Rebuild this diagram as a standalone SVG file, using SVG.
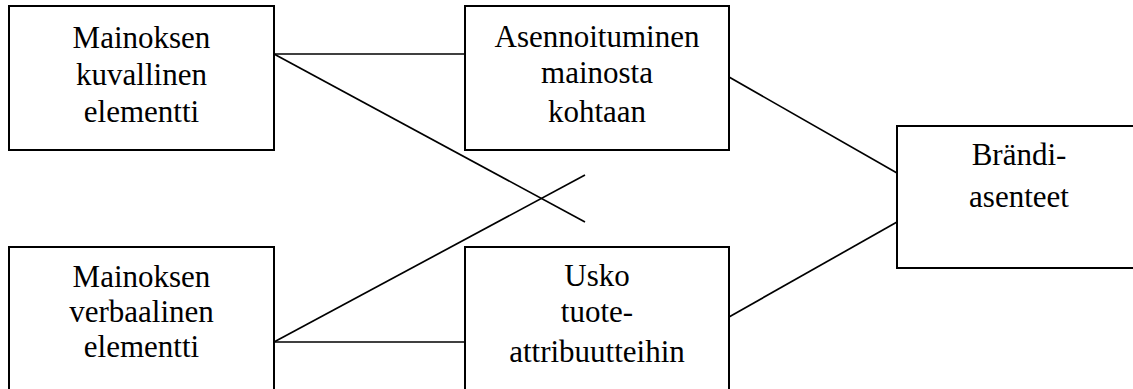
<svg xmlns="http://www.w3.org/2000/svg" width="1133" height="389" viewBox="0 0 1133 389">
<style>
.box{fill:#fff;stroke:#000;stroke-width:2}
.t{font-family:'Liberation Serif','DejaVu Serif',serif;font-size:31px;fill:#000;text-anchor:middle}
.c line{stroke:#000;stroke-width:1.7}
</style>
<rect width="1133" height="389" fill="#fff"/>
<g id="connectors" class="c">
<line x1="274" y1="54" x2="465" y2="54"/>
<line x1="274" y1="54" x2="585" y2="222"/>
<line x1="274" y1="342" x2="585" y2="175"/>
<line x1="274" y1="342" x2="465" y2="342"/>
<line x1="729" y1="77" x2="897" y2="173"/>
<line x1="729" y1="317" x2="897" y2="222"/>
</g>
<g id="n1" font-family="Liberation Serif">
<rect class="box" x="9" y="6" width="265" height="144"/>
<text class="t" x="141.5" y="48">Mainoksen</text>
<text class="t" x="141.5" y="85">kuvallinen</text>
<text class="t" x="141.5" y="122">elementti</text>
</g>
<g id="n2">
<rect class="box" x="465" y="6" width="264" height="144"/>
<text class="t" x="597" y="47">Asennoituminen</text>
<text class="t" x="597" y="83">mainosta</text>
<text class="t" x="597" y="122">kohtaan</text>
</g>
<g id="n3">
<rect class="box" x="9" y="247" width="265" height="160"/>
<text class="t" x="141.5" y="287">Mainoksen</text>
<text class="t" x="141.5" y="322">verbaalinen</text>
<text class="t" x="141.5" y="357">elementti</text>
</g>
<g id="n4">
<rect class="box" x="465" y="247" width="264" height="160"/>
<text class="t" x="597" y="286">Usko</text>
<text class="t" x="597" y="322">tuote-</text>
<text class="t" x="597" y="362">attribuutteihin</text>
</g>
<g id="n5">
<rect class="box" x="897" y="126" width="250" height="142"/>
<text class="t" x="1019" y="165">Brändi-</text>
<text class="t" x="1019" y="207">asenteet</text>
</g>
</svg>
